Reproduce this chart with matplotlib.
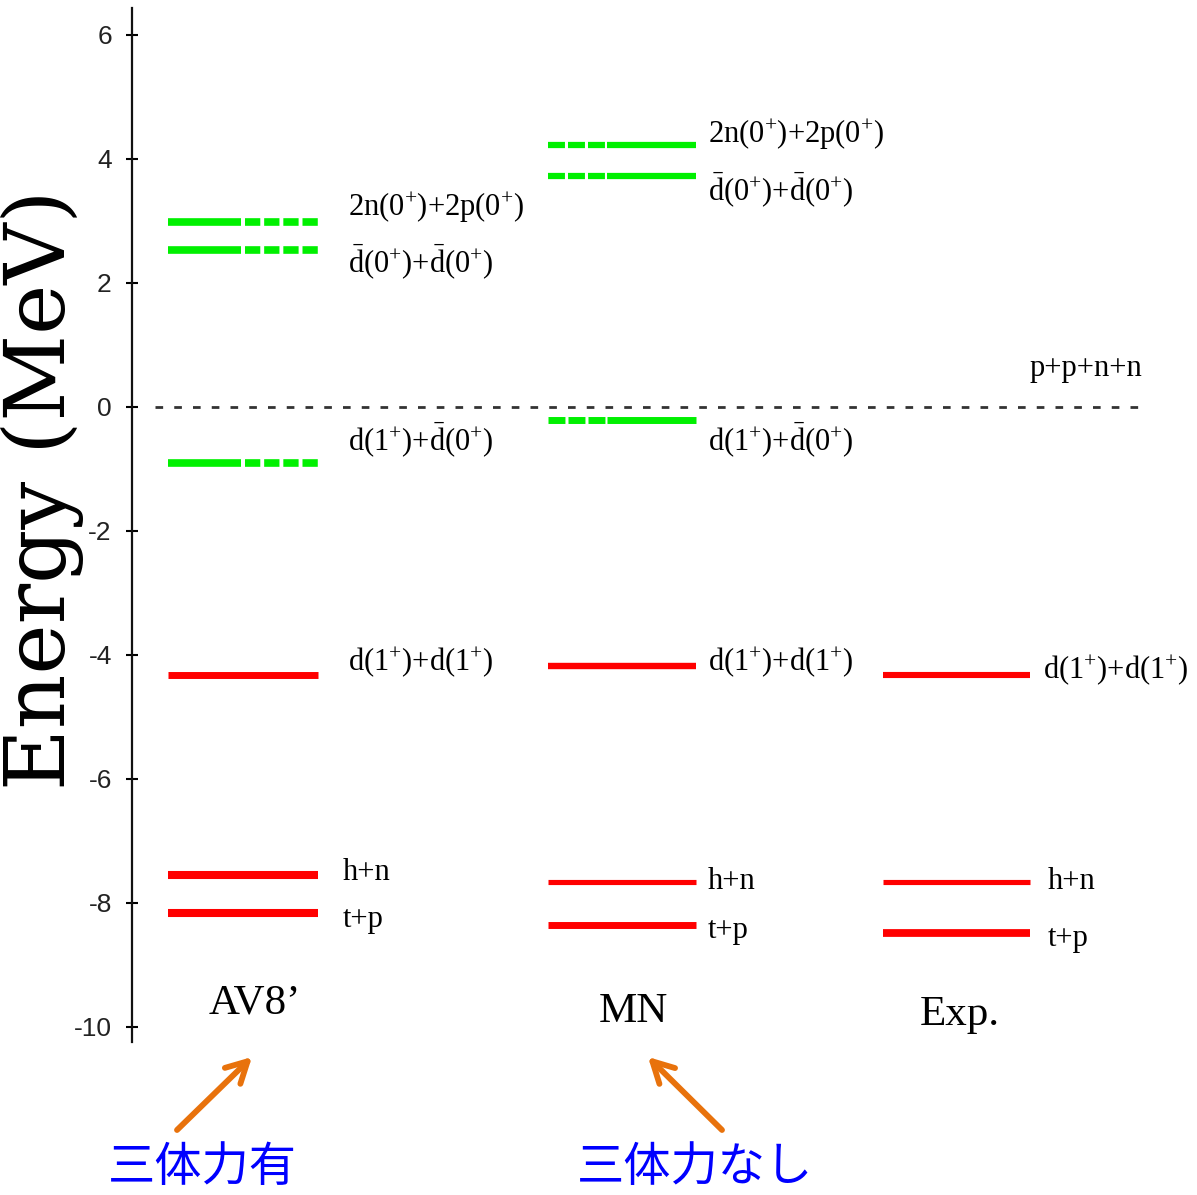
import matplotlib
matplotlib.use("Agg")
import matplotlib.pyplot as plt

# ---------------- data ----------------
models = ["AV8\u2019", "MN", "Exp."]
channels = ["2n(0+)+2p(0+)", "dbar(0+)+dbar(0+)", "d(1+)+dbar(0+)", "d(1+)+d(1+)", "h+n", "t+p"]
av8_E = [2.98, 2.53, -0.90, -4.32, -7.55, -8.16]
mn_E = [4.23, 3.73, -0.21, -4.18, -7.66, -8.35]
exp_E = [None, None, None, -4.32, -7.66, -8.48]
threshold_E = 0.0
threshold_label = "p+p+n+n"
yticks = [-10, -8, -6, -4, -2, 0, 2, 4, 6]
notes = ["三体力有", "三体力なし"]

label_tex = {
    "2n(0+)+2p(0+)": r"2n(0$^{+}$)+2p(0$^{+}$)",
    "dbar(0+)+dbar(0+)": r"$\bar{\mathrm{d}}$(0$^{+}$)+$\bar{\mathrm{d}}$(0$^{+}$)",
    "d(1+)+dbar(0+)": r"d(1$^{+}$)+$\bar{\mathrm{d}}$(0$^{+}$)",
    "d(1+)+d(1+)": r"d(1$^{+}$)+d(1$^{+}$)",
    "h+n": "h+n",
    "t+p": "t+p",
}

plt.rcParams["mathtext.fontset"] = "custom"
plt.rcParams["mathtext.rm"] = "Liberation Serif"
plt.rcParams["mathtext.it"] = "Liberation Serif:italic"
plt.rcParams["lines.scale_dashes"] = False

RED = "#ff0000"
GREEN = "#00f000"
LFS = 22  # level label font size

fig = plt.figure(figsize=(11.97, 11.95), dpi=100)
ax = fig.add_axes([0, 0, 1, 1])
PX = 62.0  # pixels per MeV
Y0 = 407.0
ax.set_xlim(0, 1197)
ax.set_ylim(-(1195 - Y0) / PX, Y0 / PX)

for s in ["top", "right", "bottom"]:
    ax.spines[s].set_visible(False)
ax.spines["left"].set_position(("data", 132))
ax.spines["left"].set_bounds(-(1042 - Y0) / PX, (Y0 - 8) / PX)
ax.spines["left"].set_linewidth(1.6)
ax.spines["left"].set_color("#111111")
ax.set_xticks([])
ax.set_yticks(yticks)
ax.set_yticklabels([str(t) for t in yticks], fontsize=19, family="Liberation Sans", color="#222222")
ax.tick_params(axis="y", direction="inout", length=9, width=1.5, pad=10)
ax.patch.set_visible(False)

# y label
ax.text(42, (Y0 - 490) / PX, "Energy (MeV)", rotation=90, ha="center", va="center",
        fontsize=61, family="DejaVu Serif")

# threshold line
ax.plot([155, 1140], [threshold_E, threshold_E], color="#333333", lw=2.0,
        linestyle=(0, (5.5, 8.0)))
ax.text(1030, threshold_E + 0.62, threshold_label, fontsize=LFS, family="Liberation Serif",
        ha="left", va="center")

# column geometry (pixels)
cols = {
    0: dict(x0=168, x1=318, lx=348),
    1: dict(x0=548, x1=696, lx=708),
    2: dict(x0=883, x1=1030, lx=1043),
}
# line widths per level (pt)
lw_av8 = [5.5, 5.5, 5.5, 5.0, 5.8, 5.8]
lw_mn = [4.5, 4.5, 5.0, 4.6, 3.7, 5.0]
lw_exp = [0, 0, 0, 4.4, 3.7, 5.6]
# label y offsets (MeV)
off_av8 = [0.23, -0.19, 0.37, 0.21, 0.05, -0.11]
off_mn = [0.16, -0.23, -0.32, 0.07, 0.0, -0.09]
off_exp = [0, 0, 0, 0.08, 0.0, -0.09]
lx_shift = [0, 0, 0, 0, -5, -5]

def draw_level(ci, E, lw, green, kind):
    c = cols[ci]
    if not green:
        ax.plot([c["x0"], c["x1"]], [E, E], color=RED, lw=lw, solid_capstyle="butt")
        return
    if kind == "solid_first":
        split = 241
        ax.plot([c["x0"], split], [E, E], color=GREEN, lw=lw, solid_capstyle="butt")
        ax.plot([split + 4, c["x1"]], [E, E], color=GREEN, lw=lw,
                linestyle=(0, (11.0, 2.8)), dash_capstyle="butt")
    else:
        split = 605
        ax.plot([c["x0"], split], [E, E], color=GREEN, lw=lw,
                linestyle=(0, (12.2, 2.2)), dash_capstyle="butt")
        ax.plot([split + 2, c["x1"]], [E, E], color=GREEN, lw=lw, solid_capstyle="butt")

for i, ch in enumerate(channels):
    green = i < 3
    # AV8'
    draw_level(0, av8_E[i], lw_av8[i], green, "solid_first")
    ax.text(cols[0]["lx"] + lx_shift[i], av8_E[i] + off_av8[i], label_tex[ch], fontsize=LFS,
            family="Liberation Serif", ha="left", va="center")
    # MN
    draw_level(1, mn_E[i], lw_mn[i], green, "dash_first")
    ax.text(cols[1]["lx"] + (lx_shift[i] + 5 if i >= 4 else 0), mn_E[i] + off_mn[i], label_tex[ch],
            fontsize=LFS, family="Liberation Serif", ha="left", va="center")
    # Exp
    if exp_E[i] is not None:
        draw_level(2, exp_E[i], lw_exp[i], False, None)
        lx = cols[2]["lx"] + (5 if i >= 4 else 0)
        ax.text(lx, exp_E[i] + off_exp[i], label_tex[ch], fontsize=LFS,
                family="Liberation Serif", ha="left", va="center")

# model names
name_pos = [(255, 1003), (633, 1012), (960, 1015)]
for name, (x, y) in zip(models, name_pos):
    ax.text(x, (Y0 - y) / PX, name, fontsize=31, family="Liberation Serif",
            ha="center", va="center")

# arrows and notes
ORANGE = "#e8720c"
arrows = [((177, 1130), (252, 1057)), ((722, 1130), (648, 1057))]
for (xs, ys), (xe, ye) in arrows:
    ax.annotate("", xy=(xe, (Y0 - ye) / PX), xytext=(xs, (Y0 - ys) / PX),
                arrowprops=dict(arrowstyle="->,head_length=1.5,head_width=0.8", color=ORANGE,
                                lw=4.2, shrinkA=0, shrinkB=0, capstyle="round",
                                joinstyle="round"))
note_pos = [(202, 1168), (695, 1168)]
for t, (x, y) in zip(notes, note_pos):
    ax.text(x, (Y0 - y) / PX, t, fontsize=34, family=["Noto Sans CJK JP", "DejaVu Sans"],
            color="#0000ff", ha="center", va="center")

fig.savefig("out.png", dpi=100, facecolor="white")
